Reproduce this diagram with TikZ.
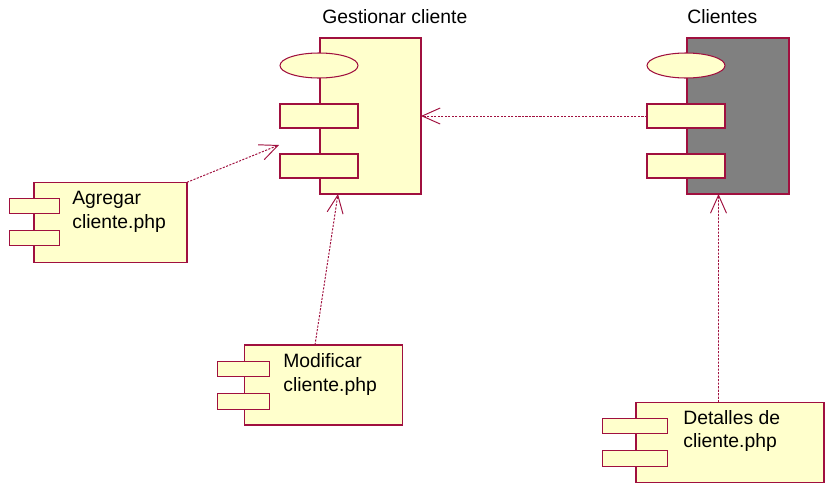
\documentclass[tikz,border=0pt]{standalone}
\usepackage{fontspec}
\setmainfont{Liberation Sans}
\usetikzlibrary{arrows.meta,shapes.geometric}
\definecolor{edge}{HTML}{A0103F}
\definecolor{paper}{HTML}{FFFFCC}
\definecolor{darkbody}{HTML}{808080}
\begin{document}
\begin{tikzpicture}[x=0.02cm,y=-0.02cm,
  part/.style={draw=edge, fill=paper, line width=0.6pt, inner sep=0pt, outer sep=0pt, rectangle},
  port/.style={part, ellipse},
  lbl/.style={inner sep=0pt, align=left, anchor=base west,
    font=\fontsize{11}{13.6}\selectfont},
  dep/.style={draw=edge, line width=0.55pt, dash pattern=on 1.2pt off 0.8pt,
    -{Straight Barb[length=0.36cm, width=0.32cm, line width=0.55pt]}}]
\useasboundingbox (0,0) rectangle (825,484);

% free end of the Agregar dependency
\coordinate (agrTip) at (279,145);

% Gestionar cliente
\node[part, minimum width=2.02cm, minimum height=3.12cm] (gest) at (370.5,116) {};
\node[port, minimum width=1.56cm, minimum height=0.5cm] (gestE) at (319,65.5) {};
\node[part, minimum width=1.56cm, minimum height=0.48cm] (gestA) at (319,116) {};
\node[part, minimum width=1.56cm, minimum height=0.48cm] (gestB) at (319,166) {};
\node[lbl] (gestT) at (322,23) {Gestionar cliente};

% Clientes
\node[part, fill=darkbody, minimum width=2.04cm, minimum height=3.12cm] (cli) at (738,116) {};
\node[port, minimum width=1.56cm, minimum height=0.5cm] (cliE) at (686,65.5) {};
\node[part, minimum width=1.56cm, minimum height=0.48cm] (cliA) at (686,116) {};
\node[part, minimum width=1.56cm, minimum height=0.48cm] (cliB) at (686,166) {};
\node[lbl] (cliT) at (687,23) {Clientes};

% Agregar cliente.php (base anchor sits on the last line)
\node[part, minimum width=3.06cm, minimum height=1.6cm] (agr) at (110.5,222.3) {};
\node[part, minimum width=1.0cm, minimum height=0.3cm] (agrA) at (34.2,205.8) {};
\node[part, minimum width=1.0cm, minimum height=0.3cm] (agrB) at (34.2,238) {};
\node[lbl] (agrT) at (72,228.2) {Agregar\\cliente.php};

% Modificar cliente.php
\node[part, minimum width=3.17cm, minimum height=1.6cm] (mod) at (323.3,385) {};
\node[part, minimum width=1.05cm, minimum height=0.31cm] (modA) at (243.7,369.2) {};
\node[part, minimum width=1.05cm, minimum height=0.31cm] (modB) at (243.7,401.3) {};
\node[lbl] (modT) at (283,391.7) {Modificar\\cliente.php};

% Detalles de cliente.php
\node[part, minimum width=3.76cm, minimum height=1.6cm] (det) at (730,442.3) {};
\node[part, minimum width=1.31cm, minimum height=0.31cm] (detA) at (635,426.2) {};
\node[part, minimum width=1.31cm, minimum height=0.31cm] (detB) at (635,458.4) {};
\node[lbl] (detT) at (683,447.9) {Detalles de\\cliente.php};

% dependencies
\draw[dep] (cliA.west) -- (gest.east);
\draw[dep] (agr.north east) -- (agrTip);
\draw[dep] ([xshift=-0.166cm]mod.north) -- ([xshift=-0.65cm]gest.south);
\draw[dep] ([xshift=-0.23cm]det.north) -- ([xshift=-0.39cm]cli.south);
\end{tikzpicture}
\end{document}
